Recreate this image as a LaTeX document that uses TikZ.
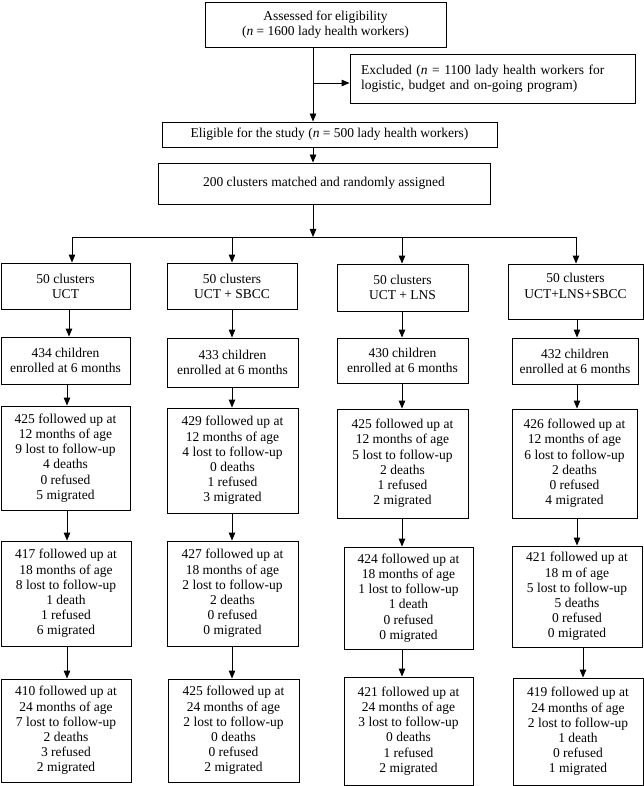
\documentclass[tikz,border=0pt]{standalone}
\usepackage{fontspec}
\setmainfont{Liberation Serif}
\usetikzlibrary{arrows.meta}
\tikzset{
  fbox/.style={draw, line width=0.9pt, align=center, inner sep=0pt,
    font=\fontsize{13.5}{15.2}\selectfont},
  arr/.style={line width=0.9pt, -{Triangle[length=8pt,width=6.5pt]}},
  ln/.style={line width=0.9pt}
}
\begin{document}
\begin{tikzpicture}[x=1pt,y=-1pt]
\useasboundingbox (0,0) rectangle (644,786);
% top part
\node[fbox, minimum width=241, minimum height=45] (top) at (325.5,24.5)
  {Assessed for eligibility\\(\textit{n} = 1600 lady health workers)};
\node[fbox, minimum height=49, text width=263, inner xsep=11, align=left] (excl) at (492.5,78.5)
  {Excluded (\textit{n} = 1100 lady health workers for\\logistic, budget and on-going program)};
\node[fbox, minimum width=335, minimum height=25] (elig) at (329.5,134.5)
  {Eligible for the study (\textit{n} = 500 lady health workers)};
\node[fbox, minimum width=332, minimum height=41] (rand) at (324,183.5)
  {200 clusters matched and randomly assigned};
% clusters row
\node[fbox, minimum width=129, minimum height=46] (k1) at (65.5,286) {50 clusters\\UCT};
\node[fbox, minimum width=130, minimum height=46] (k2) at (232,286) {50 clusters\\UCT + SBCC};
\node[fbox, minimum width=131, minimum height=47] (k3) at (402.5,287.5) {50 clusters\\UCT + LNS};
\node[fbox, minimum width=135, minimum height=55] (k4) at (575.5,291.5) {50 clusters\\UCT+LNS+SBCC\\[-4pt]};
% enrolled row
\node[fbox, minimum width=129, minimum height=47] (e1) at (65.5,360.5) {434 children\\enrolled at 6 months};
\node[fbox, minimum width=131, minimum height=49] (e2) at (232.5,362.5) {433 children\\enrolled at 6 months};
\node[fbox, minimum width=131, minimum height=45] (e3) at (402.5,360.5) {430 children\\enrolled at 6 months};
\node[fbox, minimum width=126, minimum height=46] (e4) at (575,361) {432 children\\enrolled at 6 months};
% 12 months row
\node[fbox, minimum width=129, minimum height=104] (t1) at (65.5,458)
  {425 followed up at\\12 months of age\\9 lost to follow-up\\4 deaths\\0 refused\\5 migrated};
\node[fbox, minimum width=131, minimum height=105] (t2) at (232.5,460.5)
  {429 followed up at\\12 months of age\\4 lost to follow-up\\0 deaths\\1 refused\\3 migrated};
\node[fbox, minimum width=131, minimum height=109] (t3) at (402.5,463.5)
  {425 followed up at\\12 months of age\\5 lost to follow-up\\2 deaths\\1 refused\\2 migrated};
\node[fbox, minimum width=125, minimum height=109] (t4) at (574.5,463.5)
  {426 followed up at\\12 months of age\\6 lost to follow-up\\2 deaths\\0 refused\\4 migrated};
% 18 months row
\node[fbox, minimum width=130, minimum height=105] (u1) at (66,593.5)
  {417 followed up at\\18 months of age\\8 lost to follow-up\\1 death\\1 refused\\6 migrated};
\node[fbox, minimum width=131, minimum height=105] (u2) at (232.5,593.5)
  {427 followed up at\\18 months of age\\2 lost to follow-up\\2 deaths\\0 refused\\0 migrated};
\node[fbox, minimum width=129, minimum height=102] (u3) at (408.5,598)
  {424 followed up at\\18 months of age\\1 lost to follow-up\\1 death\\0 refused\\0 migrated};
\node[fbox, minimum width=130, minimum height=101] (u4) at (577,596.5)
  {421 followed up at\\18 m of age\\5 lost to follow-up\\5 deaths\\0 refused\\0 migrated};
% 24 months row
\node[fbox, minimum width=130, minimum height=103] (v1) at (66,730.5)
  {410 followed up at\\24 months of age\\7 lost to follow-up\\2 deaths\\3 refused\\2 migrated};
\node[fbox, minimum width=131, minimum height=103] (v2) at (233.5,730.5)
  {425 followed up at\\24 months of age\\2 lost to follow-up\\0 deaths\\0 refused\\2 migrated};
\node[fbox, minimum width=129, minimum height=108] (v3) at (408.5,731)
  {421 followed up at\\24 months of age\\3 lost to follow-up\\0 deaths\\1 refused\\2 migrated};
\node[fbox, minimum width=130, minimum height=107] (v4) at (578,731.5)
  {419 followed up at\\24 months of age\\2 lost to follow-up\\1 death\\0 refused\\1 migrated};
% coordinates
\coordinate (tx) at (313,0);
\coordinate (exb) at (313,83);
\coordinate (jn) at (313,237);
\coordinate (j1) at (72,237);
\coordinate (j2) at (232,237);
\coordinate (j3) at (402,237);
\coordinate (j4) at (576,237);
\coordinate (x0) at (69,0);
\coordinate (x1) at (67,0);
\coordinate (x2) at (232,0);
\coordinate (x3) at (402,0);
\coordinate (x4) at (577,0);
\coordinate (x4b) at (583,0);
% top connectors
\draw[arr] (top.south -| tx) -- (elig.north -| tx);
\draw[arr] (exb) -- (exb -| excl.west);
\draw[arr] (elig.south -| tx) -- (rand.north -| tx);
\draw[arr] (rand.south -| tx) -- (jn);
\draw[ln] (j1) -- (j4);
\draw[arr] (j1) -- (j1 |- k1.north);
\draw[arr] (j2) -- (j2 |- k2.north);
\draw[arr] (j3) -- (j3 |- k3.north);
\draw[arr] (j4) -- (j4 |- k4.north);
% column connectors
\draw[arr] (k1.south -| x0) -- (e1.north -| x0);
\draw[arr] (k2.south -| x2) -- (e2.north -| x2);
\draw[arr] (k3.south -| x3) -- (e3.north -| x3);
\draw[arr] (k4.south -| x4) -- (e4.north -| x4);
\draw[arr] (e1.south -| x1) -- (t1.north -| x1);
\draw[arr] (e2.south -| x2) -- (t2.north -| x2);
\draw[arr] (e3.south -| x3) -- (t3.north -| x3);
\draw[arr] (e4.south -| x4) -- (t4.north -| x4);
\draw[arr] (t1.south -| x1) -- (u1.north -| x1);
\draw[arr] (t2.south -| x2) -- (u2.north -| x2);
\draw[arr] (t3.south -| x3) -- (u3.north -| x3);
\draw[arr] (t4.south -| x4) -- (u4.north -| x4);
\draw[arr] (u1.south -| x1) -- (v1.north -| x1);
\draw[arr] (u2.south -| x2) -- (v2.north -| x2);
\draw[arr] (u3.south -| x3) -- (v3.north -| x3);
\draw[arr] (u4.south -| x4b) -- (v4.north -| x4b);
\end{tikzpicture}
\end{document}
